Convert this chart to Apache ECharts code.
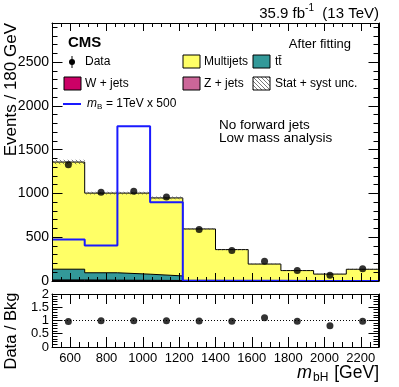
<!DOCTYPE html>
<html>
<head>
<meta charset="utf-8">
<script src="https://cdn.jsdelivr.net/npm/echarts@6/dist/echarts.min.js"></script>
<style>
html, body { margin: 0; padding: 0; background: #fff; overflow: hidden; }
#chart { width: 399px; height: 387px; }
</style>
</head>
<body>
<div id="chart"></div>
<script>
// bins of 180 GeV
var binEdges = [500, 680, 860, 1040, 1220, 1400, 1580, 1760, 1940, 2120, 2300];
var multijets = [1225, 911, 927, 892, 588, 355, 190, 118, 78, 133];
var ttbar = [123, 84, 70, 52, 3, 2, 2, 1, 1, 1];
var wjets = [6, 5, 4, 3, 2, 1, 1, 0, 0, 0];
var zjets = [6, 5, 4, 3, 2, 1, 1, 0, 0, 0];
var statSyst = [25, 15, 15, 15, 10, 8, 6, 5, 4, 5];
var signal = [475, 405, 1770, 900, 4, 3, 2, 1, 1, 1];
var dataEvents = [1330, 1015, 1025, 960, 590, 350, 225, 120, 65, 140];
var ratio = [0.96, 0.99, 0.99, 0.99, 0.98, 0.97, 1.1, 0.97, 0.8, 0.97];
var xTicks = [600, 800, 1000, 1200, 1400, 1600, 1800, 2000, 2200];
var yTicksMain = [0, 500, 1000, 1500, 2000, 2500];
var yTicksRatio = [0, 0.5, 1, 1.5, 2];

var FONT = '"Liberation Sans", Arial, Helvetica, sans-serif';
var colMulti = '#ffff66', colTT = '#339999', colW = '#cc0066', colZ = '#cc6699', colSig = '#1a1aff';

// hatch pattern for stat+syst band
var hc = document.createElement('canvas');
hc.width = 4; hc.height = 4;
var hx = hc.getContext('2d');
hx.strokeStyle = '#555';
hx.lineWidth = 0.8;
hx.beginPath();
hx.moveTo(-1, -1); hx.lineTo(5, 5);
hx.moveTo(-1, 3); hx.lineTo(1, 5);
hx.moveTo(3, -1); hx.lineTo(5, 1);
hx.stroke();
var hatch = { type: 'pattern', image: hc, repeat: 'repeat' };

function addUp() {
  var out = [];
  for (var i = 0; i < binEdges.length - 1; i++) {
    var s = 0;
    for (var k = 0; k < arguments.length; k++) s += arguments[k][i];
    out.push(s);
  }
  return out;
}
function stepData(vals) {
  var d = [];
  for (var i = 0; i < vals.length; i++) d.push([binEdges[i], vals[i]]);
  d.push([binEdges[vals.length], vals[vals.length - 1]]);
  return d;
}
var centers = [];
for (var i = 0; i < binEdges.length - 1; i++) centers.push((binEdges[i] + binEdges[i + 1]) / 2);

var wTop = addUp(wjets);
var zTop = addUp(wjets, zjets);
var ttTop = addUp(wjets, zjets, ttbar);
var total = addUp(wjets, zjets, ttbar, multijets);

// y tick marks (major + minor)
function yTickList(majors, step, top) {
  var list = majors.map(function (v) { return [v, 10]; });
  for (var k = 1; k * step < top; k++) {
    var v = +(k * step).toFixed(3);
    if (majors.indexOf(v) < 0) list.push([v, 5]);
  }
  return list;
}

function histo(name, vals, fill, z) {
  return {
    type: 'line', name: name, step: 'end', data: stepData(vals),
    xAxisIndex: 0, yAxisIndex: 0, symbol: 'none', z: z,
    lineStyle: { color: '#000', width: 1 },
    areaStyle: { color: fill, opacity: 1, origin: 'start' }
  };
}
function plain(v) { return String(v); }

function xAx(grid, pos, major, withLabels) {
  var a = {
    type: 'value', gridIndex: grid, position: pos, min: 500, max: 2300, z: 10,
    splitLine: { show: false },
    axisLine: { show: !major, onZero: false, lineStyle: { color: '#000', width: 1 } },
    axisTick: { show: true, inside: true, length: major ? (grid ? 10 : 8) : (grid ? 5 : 4), lineStyle: { color: '#000', width: 1 } },
    axisLabel: { show: false }
  };
  if (major) a.axisTick.customValues = xTicks;
  else a.interval = 50;
  if (withLabels) {
    a.axisLabel = { show: true, customValues: xTicks, formatter: plain, color: '#000', fontFamily: FONT, fontSize: 13, margin: 5 };
  }
  return a;
}
function yAx(grid, pos, withLabels) {
  var a = {
    type: 'value', gridIndex: grid, position: pos, min: 0, max: grid ? 2 : 2950, z: 10,
    interval: grid ? 0.5 : 500,
    splitLine: { show: false },
    axisLine: { show: true, onZero: false, lineStyle: { color: '#000', width: 1 } },
    axisTick: { show: false },
    axisLabel: { show: false }
  };
  if (withLabels) {
    a.axisLabel = { show: true, formatter: plain, color: '#000', fontFamily: FONT, fontSize: grid ? 13 : 14, margin: 3, showMaxLabel: grid ? true : false };
  }
  return a;
}

var hatchBand = [];
for (var i = 0; i < total.length; i++) {
  hatchBand.push([binEdges[i], binEdges[i + 1], total[i] - statSyst[i], total[i] + statSyst[i]]);
}

function txt(x, y, s, size, opts) {
  opts = opts || {};
  return {
    type: 'text', x: x, y: y, rotation: opts.rot || 0, z: 100,
    style: {
      text: s, fill: '#000',
      font: (opts.style || '') + ' ' + (opts.weight || 'normal') + ' ' + size + 'px ' + FONT,
      align: opts.align || 'left', verticalAlign: 'middle',
      textAlign: opts.align || 'left', textVerticalAlign: 'middle'
    }
  };
}
function box(x, y, fill) {
  return { type: 'rect', z: 100, shape: { x: x, y: y, width: 17, height: 13 }, style: { fill: fill, stroke: '#000', lineWidth: 1 } };
}
function seg(x1, y1, x2, y2) {
  return { type: 'line', z: 120, silent: true, shape: { x1: x1, y1: y1, x2: x2, y2: y2 }, style: { stroke: '#000', lineWidth: 1 } };
}

// lumi label pieces, laid out from the right
var mc = document.createElement('canvas').getContext('2d');
mc.font = '15px ' + FONT;
var wRight = mc.measureText('  (13 TeV)').width;
mc.font = '10px ' + FONT;
var wSup = mc.measureText('-1').width;

var graphics = [
  txt(379 - wRight - wSup, 14, '35.9 fb', 15, { align: 'right' }),
  txt(379 - wRight, 8, '-1', 10, { align: 'right' }),
  txt(379, 14, '  (13 TeV)', 15, { align: 'right' }),
  txt(68, 43, 'CMS', 15, { weight: 'bold' }),
  txt(351, 44, 'After fitting', 13, { align: 'right' }),
  { type: 'line', z: 100, shape: { x1: 72, y1: 56, x2: 72, y2: 68 }, style: { stroke: '#000', lineWidth: 1 } },
  { type: 'circle', z: 100, shape: { cx: 72, cy: 62, r: 3 }, style: { fill: '#000' } },
  txt(85, 62, 'Data', 12),
  box(64, 77, colW),
  txt(85, 84, 'W + jets', 12),
  { type: 'line', z: 100, shape: { x1: 63, y1: 104, x2: 81, y2: 104 }, style: { stroke: colSig, lineWidth: 2 } },
  txt(87, 104, 'm', 12, { style: 'italic' }),
  txt(97, 107, 'B', 8),
  txt(106, 104, '= 1TeV x 500', 12),
  box(183, 55, colMulti),
  txt(204, 62, 'Multijets', 12),
  box(183, 77, colZ),
  txt(204, 84, 'Z + jets', 12),
  box(253, 55, colTT),
  txt(275, 62, 't\u0074\u0304', 12),
  box(253, 77, hatch),
  txt(275, 84, 'Stat + syst unc.', 12),
  txt(219, 125, 'No forward jets', 13.5),
  txt(219, 138, 'Low mass analysis', 13.5),
  txt(11, 23, 'Events / 180 GeV', 17, { align: 'right', rot: Math.PI / 2 }),
  txt(11, 331, 'Data / Bkg', 16.5, { align: 'center', rot: Math.PI / 2 }),
  txt(379, 373, '[GeV]', 17.5, { align: 'right' }),
  txt(313, 378, 'bH', 12),
  txt(297, 373, 'm', 18, { style: 'italic' })
];

var chart = echarts.init(document.getElementById('chart'), null, { renderer: 'canvas' });
chart.setOption({
  backgroundColor: '#fff',
  animation: false,
  grid: [
    { left: 52, top: 23, width: 327, height: 258 },
    { left: 52, top: 294, width: 327, height: 53 }
  ],
  xAxis: [
    xAx(0, 'bottom', false), xAx(0, 'bottom', true), xAx(0, 'top', false), xAx(0, 'top', true),
    xAx(1, 'bottom', false, true), xAx(1, 'bottom', true), xAx(1, 'top', false), xAx(1, 'top', true)
  ],
  yAxis: [
    yAx(0, 'left', true), yAx(0, 'right'),
    yAx(1, 'left', true), yAx(1, 'right')
  ],
  graphic: graphics,
  series: [
    histo('Multijets', total, colMulti, 2),
    histo('ttbar', ttTop, colTT, 3),
    histo('Z + jets', zTop, colZ, 4),
    histo('W + jets', wTop, colW, 5),
    {
      type: 'custom', name: 'Stat + syst unc.', xAxisIndex: 0, yAxisIndex: 0, z: 6,
      data: hatchBand,
      renderItem: function (params, api) {
        var p0 = api.coord([api.value(0), api.value(2)]);
        var p1 = api.coord([api.value(1), api.value(3)]);
        return { type: 'rect', shape: { x: p0[0], y: p1[1], width: p1[0] - p0[0], height: p0[1] - p1[1] }, style: { fill: hatch } };
      }
    },
    {
      type: 'line', name: 'signal', step: 'end', data: stepData(signal),
      xAxisIndex: 0, yAxisIndex: 0, symbol: 'none', z: 7,
      lineStyle: { color: colSig, width: 2 }
    },
    {
      type: 'scatter', name: 'Data', xAxisIndex: 0, yAxisIndex: 0, z: 8,
      data: centers.map(function (c, i) { return [c, dataEvents[i]]; }),
      symbol: 'circle', symbolSize: 7, itemStyle: { color: '#000' }
    },
    {
      type: 'line', xAxisIndex: 4, yAxisIndex: 2, z: 2, symbol: 'none',
      data: [[500, 1], [2300, 1]],
      lineStyle: { color: '#000', width: 1, type: [1, 2] }
    },
    {
      type: 'scatter', name: 'ratio', xAxisIndex: 4, yAxisIndex: 2, z: 8,
      data: centers.map(function (c, i) { return [c, ratio[i]]; }),
      symbol: 'circle', symbolSize: 7, itemStyle: { color: '#000' }
    }
  ]
});

// y ticks and right frame edge, placed through the axes' own scales
function frameTicks(xi, yi, list, yTop) {
  var xl = Math.round(chart.convertToPixel({ xAxisIndex: xi }, 500)) + 0.5;
  var xr = Math.round(chart.convertToPixel({ xAxisIndex: xi }, 2300)) - 0.5;
  var yb = chart.convertToPixel({ yAxisIndex: yi }, 0);
  var yt = chart.convertToPixel({ yAxisIndex: yi }, yTop);
  var els = [seg(xr, Math.round(yt), xr, Math.round(yb))];
  list.forEach(function (t) {
    var y = Math.floor(chart.convertToPixel({ yAxisIndex: yi }, t[0])) + 0.5;
    els.push(seg(xl, y, xl + t[1], y));
    els.push(seg(xr, y, xr - t[1], y));
  });
  return els;
}
var extra = frameTicks(0, 0, yTickList(yTicksMain, 100, 2950), 2950)
  .concat(frameTicks(4, 2, yTickList(yTicksRatio, 0.1, 2), 2));
chart.setOption({ graphic: graphics.concat(extra) });
</script>
</body>
</html>
